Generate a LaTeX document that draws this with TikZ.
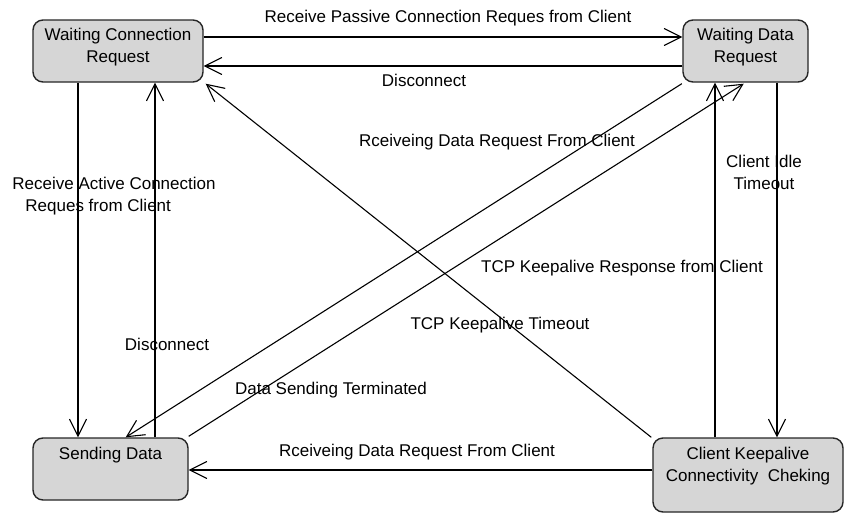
\documentclass[tikz,border=0pt]{standalone}
\usepackage{fontspec}
\setmainfont{Liberation Sans}
\usetikzlibrary{arrows.meta}
\tikzstyle{state}=[rectangle, rounded corners=10pt, fill=black!16, draw=black!85, line width=1.4pt, inner sep=0pt, anchor=center]
\tikzstyle{annot}=[align=center, inner sep=1pt, font=\fontsize{17}{22}\selectfont]
\tikzstyle{arr}=[line width=1.1pt, -{Straight Barb[length=17pt, width=17pt, line width=1.1pt]}]

\begin{document}
\begin{tikzpicture}[x=1pt, y=-1pt]
	\useasboundingbox (0,0) rectangle (845,514);

	\node[state, minimum width=170pt, minimum height=62pt, label={[annot, anchor=north, yshift=-8pt]north:Waiting Connection\\Request}](wcr) at (118,51){};
	\node[state, minimum width=125pt, minimum height=62pt, label={[annot, anchor=north, yshift=-8pt]north:Waiting Data\\Request}](wdr) at (745.5,51){};
	\node[state, minimum width=155pt, minimum height=62pt, label={[annot, anchor=north, yshift=-9pt]north:Sending Data}](sd) at (110.5,469){};
	\node[state, minimum width=190pt, minimum height=74pt, label={[annot, anchor=north, yshift=-9pt]north:Client Keepalive\\Connectivity~~Cheking}](ckc) at (748,475){};

	% top pair
	\draw[arr] ([yshift=14pt]wcr.east) -- ([yshift=14pt]wdr.west);
	\draw[arr] ([yshift=-15pt]wdr.west) -- ([yshift=-15pt]wcr.east);
	% left pair
	\draw[arr] ([xshift=-40pt]wcr.south) -- ([xshift=-32.5pt]sd.north);
	\draw[arr] ([xshift=44.5pt]sd.north) -- ([xshift=37pt]wcr.south);
	% right pair
	\draw[arr] ([xshift=-33pt]ckc.north) -- ([xshift=-30.5pt]wdr.south);
	\draw[arr] ([xshift=31.5pt]wdr.south) -- ([xshift=29pt]ckc.north);
	% bottom
	\draw[arr] ([yshift=5pt]ckc.west) -- ([yshift=-1pt]sd.east);
	% diagonals
	\draw[arr] ([xshift=-1pt]ckc.north west) -- ([xshift=2pt,yshift=-1pt]wcr.south east);
	\draw[arr] ([xshift=-0.5pt,yshift=-1pt]wdr.south west) -- ([xshift=-63pt]sd.north east);
	\draw[arr] ([yshift=1pt]sd.north east) -- ([xshift=-65pt,yshift=-1pt]wdr.south east);

	\node[annot](l1) at (448,18){Receive Passive Connection Reques from Client};
	\node[annot](l2) at (424,80){Disconnect};
	\node[annot, align=left](l3) at (114,196){Receive Active Connection\\\hspace*{13pt}Reques from Client};
	\node[annot](l4) at (167,344){Disconnect};
	\node[annot](l5) at (497,142){Rceiveing Data Request From Client};
	\node[annot](l6) at (622,268){TCP Keepalive Response from Client};
	\node[annot](l7) at (500,325){TCP Keepalive Timeout};
	\node[annot](l8) at (331,390){Data Sending Terminated};
	\node[annot](l9) at (417,452){Rceiveing Data Request From Client};
	\node[annot](l10) at (764,172){Client Idle\\Timeout};

\end{tikzpicture}
\end{document}
